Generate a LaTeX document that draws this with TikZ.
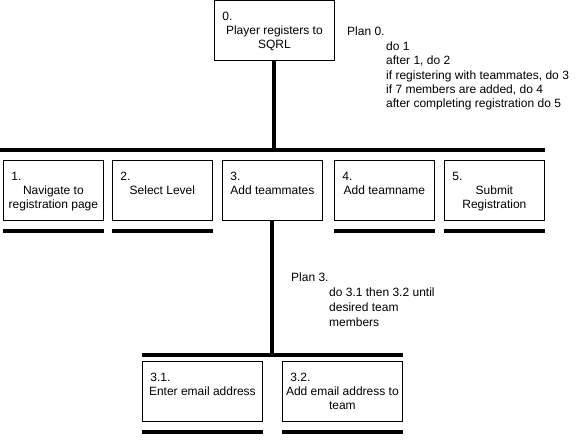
\documentclass[tikz,border=0pt]{standalone}
\usepackage{fontspec}
\setmainfont{Liberation Sans}
\usepackage{xcolor}
\usepackage{tikz}
\usetikzlibrary{calc,positioning}
\definecolor{ink}{HTML}{000000}
\newcommand\tasksize{\fontsize{12}{14}\selectfont}
\newcommand\tasktext[3]{\parbox[c][56pt][t]{#1}{\rule{0pt}{18pt}\hspace*{7pt}#2\par\centering #3\par}}
\tikzset{
  task/.style={draw=ink, line width=0.8pt, inner sep=0pt, minimum height=60pt, anchor=north west, font=\tasksize},
  small/.style={task, minimum width=100pt},
  wide/.style={task, minimum width=120pt},
  bar/.style={draw=ink, line width=4pt},
  link/.style={draw=ink, line width=4pt},
  plan/.style={text=ink, font=\tasksize, inner sep=0pt, anchor=base west},
}

\begin{document}
\begin{tikzpicture}[x=1pt, y=-1pt]
  \useasboundingbox (0,0) rectangle (576,441);
  \node[wide] (n0) at (214,0.5) {\tasktext{118pt}{0.}{Player registers to\\SQRL}};
  \node[small] (n1) at (3,160) {\tasktext{98pt}{1.}{Navigate to\\registration page}};
  \node[small] (n2) at (112,160) {\tasktext{98pt}{2.}{Select Level}};
  \node[small] (n3) at (222,160) {\tasktext{98pt}{3.}{Add teammates}};
  \node[small] (n4) at (334,160) {\tasktext{98pt}{4.}{Add teamname}};
  \node[small] (n5) at (444,160) {\tasktext{98pt}{5.}{Submit\\Registration}};
  \node[wide] (n31) at (142,361) {\tasktext{118pt}{3.1.}{Enter email address}};
  \node[wide] (n32) at (282,361) {\tasktext{118pt}{3.2.}{Add email address to\\team}};

  \coordinate (b0w) at (0,150);
  \coordinate (b0e) at (545,150);
  \coordinate (b3w) at (142,355);
  \coordinate (b3e) at (403,355);
  \coordinate (j0) at (n0.south |- b0w);
  \coordinate (j3) at (n3.south |- b3w);
  \draw[bar] (b0w) -- (b0e);
  \draw[bar] (b3w) -- (b3e);
  \draw[link] (n0.south) -- (j0);
  \draw[link] (n3.south) -- (j3);
  \foreach \n in {n1,n2,n4,n5,n31,n32}
    \draw[bar] ([yshift=-10.5pt]\n.south west) -- ([yshift=-10.5pt]\n.south east);

  \node[plan] (plan0) at (347,36) {Plan 0.};
  \foreach \t [count=\i] in {{do 1},{after 1, do 2},{if registering with teammates, do 3},{if 7 members are added, do 4},{after completing registration do 5}}
    \node[plan] (plan0\i) at (386,{36+14.4*\i}) {\t};
  \node[plan] (plan3) at (291,281) {Plan 3.};
  \foreach \t [count=\i] in {{do 3.1 then 3.2 until},{desired team},{members}}
    \node[plan] (plan3\i) at (329,{281+15*\i}) {\t};
\end{tikzpicture}
\end{document}
